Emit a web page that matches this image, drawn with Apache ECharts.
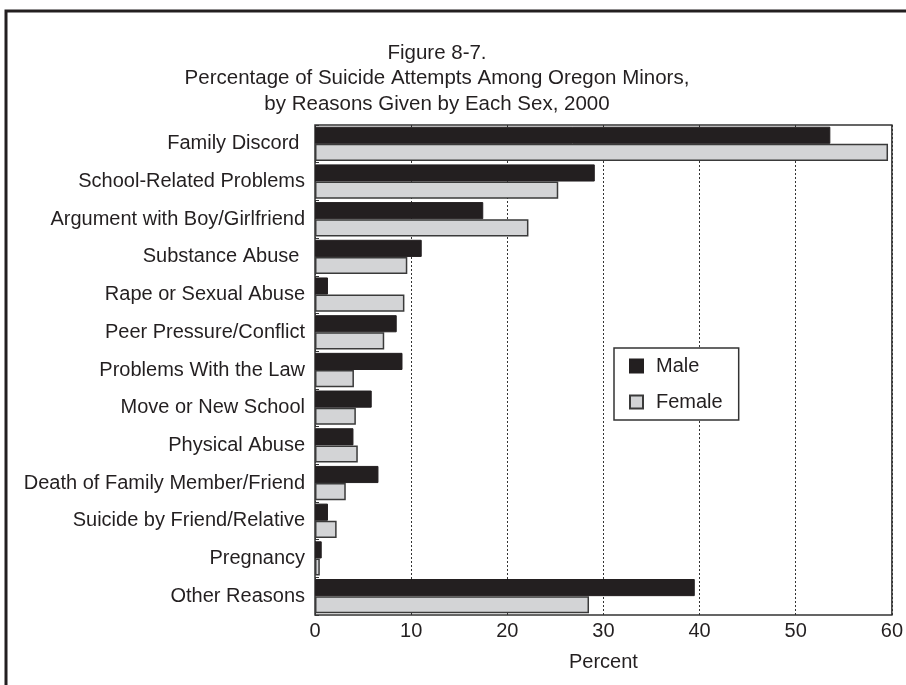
<!DOCTYPE html>
<html>
<head>
<meta charset="utf-8">
<script src="https://cdn.jsdelivr.net/npm/echarts@6/dist/echarts.min.js"></script>
<style>html,body{margin:0;padding:0;background:#fff}#c{width:906px;height:685px}</style>
</head>
<body>
<div id="c"></div>
<script>
const categories = [
  "Family Discord ", "School-Related Problems", "Argument with Boy/Girlfriend",
  "Substance Abuse ", "Rape or Sexual Abuse", "Peer Pressure/Conflict",
  "Problems With the Law", "Move or New School", "Physical Abuse",
  "Death of Family Member/Friend", "Suicide by Friend/Relative", "Pregnancy",
  "Other Reasons"
];
const maleValues =   [53.6, 29.1, 17.5, 11.1, 1.35, 8.5, 9.1, 5.9, 4.0, 6.6, 1.35, 0.7, 39.5];
const femaleValues = [59.6, 25.3, 22.2, 9.6, 9.3, 7.2, 4.05, 4.25, 4.45, 3.2, 2.25, 0.5, 28.5];
const titleLines = [
  "Figure 8-7.",
  "Percentage of Suicide Attempts Among Oregon Minors,",
  "by Reasons Given by Each Sex, 2000"
];
const xTicks = [0, 10, 20, 30, 40, 50, 60];

const FONT = "'Liberation Sans', Arial, sans-serif";
const chart = echarts.init(document.getElementById('c'), null, {renderer: 'canvas'});
const option = {
  backgroundColor: '#fff',
  animation: false,
  graphic: [
    {type: 'rect', shape: {x: 6, y: 11, width: 910, height: 690}, style: {fill: 'none', stroke: '#231f20', lineWidth: 3}, z: 100},
    ...titleLines.map((t, i) => ({
      type: 'text', x: 437, y: 53 + i * 25.5,
      style: {text: t, fill: '#231f20', font: '20.5px ' + FONT, textAlign: 'center', textVerticalAlign: 'middle'}
    }))
  ],
  grid: {left: 315, right: 14, top: 125, bottom: 70, show: true, borderColor: '#333', borderWidth: 1.5, containLabel: false},
  legend: {
    data: ['Male', 'Female'],
    orient: 'vertical', left: 614, top: 348,
    padding: [8, 16, 8, 15],
    itemWidth: 13, itemHeight: 13, itemGap: 16,
    icon: 'rect',
    backgroundColor: '#fff', borderColor: '#333', borderWidth: 1.5,
    textStyle: {fontSize: 20, fontFamily: FONT, color: '#231f20', lineHeight: 20, padding: [0, 0, 0, 8]}
  },
  xAxis: {
    type: 'value', min: 0, max: 60, interval: 10,
    name: 'Percent', nameLocation: 'middle', nameGap: 37,
    nameTextStyle: {fontSize: 20, fontFamily: FONT, color: '#231f20'},
    axisLine: {show: false}, axisTick: {show: false},
    axisLabel: {fontSize: 20, fontFamily: FONT, color: '#231f20', margin: 6,
      formatter: v => xTicks.includes(v) ? String(v) : ''},
    splitLine: {show: true, lineStyle: {type: [2, 2], color: '#333', width: 1}}
  },
  yAxis: {
    type: 'category', data: categories, inverse: true,
    axisLine: {show: false},
    axisTick: {show: true, inside: true, length: 4, lineStyle: {color: '#333'}},
    axisLabel: {fontSize: 20, fontFamily: FONT, color: '#231f20', margin: 10}
  },
  series: [
    {name: 'Male', type: 'bar', data: maleValues, barGap: '0%', barCategoryGap: '9%',
     itemStyle: {color: '#231f20', borderColor: '#231f20', borderWidth: 1}},
    {name: 'Female', type: 'bar', data: femaleValues, barGap: '0%', barCategoryGap: '9%',
     itemStyle: {color: '#d3d4d6', borderColor: '#3a3a3a', borderWidth: 1.5}}
  ]
};
chart.setOption(option);
</script>
</body>
</html>
